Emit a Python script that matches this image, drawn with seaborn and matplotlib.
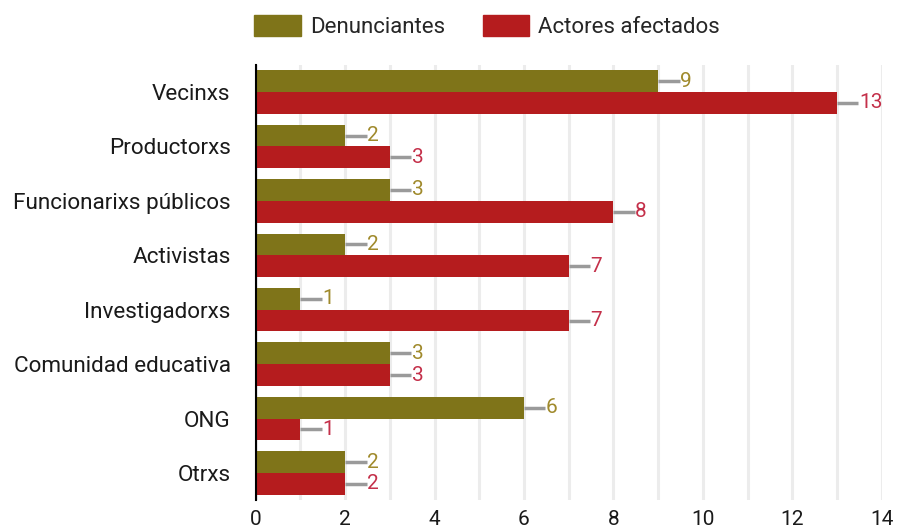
import seaborn as sns
import pandas as pd
import matplotlib.pyplot as plt
from matplotlib.ticker import MultipleLocator

categorias = ["Vecinxs", "Productorxs", "Funcionarixs públicos", "Activistas",
              "Investigadorxs", "Comunidad educativa", "ONG", "Otrxs"]
denunciantes = [9, 2, 3, 2, 1, 3, 6, 2]
afectados = [13, 3, 8, 7, 7, 3, 1, 2]
series = ["Denunciantes", "Actores afectados"]
colores = ["#7f7419", "#b51c1e"]
colores_texto = ["#a08a2c", "#c4304a"]

df = pd.DataFrame({
    "categoria": categorias * 2,
    "valor": denunciantes + afectados,
    "serie": [series[0]] * len(categorias) + [series[1]] * len(categorias),
})

sns.set_style("white")
plt.rcParams["font.family"] = ["Roboto", "DejaVu Sans"]

fig = plt.figure(figsize=(8.97, 5.31), dpi=100)
ax = fig.add_axes([0.285, 0.058, 0.698, 0.82])

sns.barplot(data=df, y="categoria", x="valor", hue="serie", orient="h",
            palette=colores, saturation=1, width=0.8, ax=ax, legend=False,
            linewidth=0)

# etiquetas con conector gris
for cont, col in zip(ax.containers, colores_texto):
    for bar in cont:
        v = bar.get_width()
        yc = bar.get_y() + bar.get_height() / 2
        ax.plot([v, v + 0.48], [yc, yc], color="#9a9a9a", lw=2.5,
                solid_capstyle="butt", zorder=3)
        ax.text(v + 0.49, yc, f"{v:.0f}", color=col, fontsize=15,
                va="center", ha="left")

ax.set_xlim(0, 14)
ax.set_ylim(7.5, -0.5)
ax.xaxis.set_major_locator(MultipleLocator(2))
ax.xaxis.set_minor_locator(MultipleLocator(1))
ax.grid(axis="x", which="both", color="#ececec", lw=2.2)
ax.set_axisbelow(True)
ax.set_xlabel("")
ax.set_ylabel("")
ax.tick_params(axis="x", labelsize=15, length=0, pad=7, colors="#1a1a1a")
ax.tick_params(axis="y", labelsize=16.2, length=0, pad=18, colors="#1a1a1a")
for s in ["top", "right", "bottom"]:
    ax.spines[s].set_visible(False)
ax.spines["left"].set_color("black")
ax.spines["left"].set_linewidth(1.5)

handles = [plt.Rectangle((0, 0), 1, 1, color=c) for c in colores]
fig.legend(handles, series, loc="upper center", bbox_to_anchor=(0.543, 1.01),
           ncol=2, frameon=False, fontsize=16, handlelength=2.1,
           handleheight=1.1, columnspacing=1.7, handletextpad=0.4)

fig.savefig("out.png", dpi=100)
